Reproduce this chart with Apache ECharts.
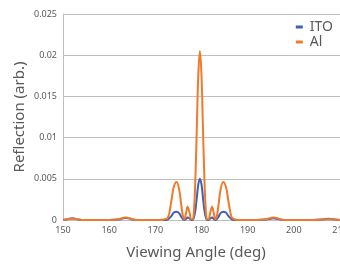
<!DOCTYPE html>
<html>
<head>
<meta charset="utf-8">
<script src="https://cdn.jsdelivr.net/npm/echarts@6/dist/echarts.min.js"></script>
<style>html,body{margin:0;padding:0;background:#fff}#c{width:340px;height:267px}</style>
</head>
<body>
<div id="c"></div>
<script>
var angles = [150, 151, 152, 153, 154, 156, 158, 160, 162, 163, 163.6, 164.2, 165, 166, 168, 170, 171, 172, 172.6, 173.0, 173.5, 174.0, 174.6, 175.2, 175.6, 176.0, 176.3, 176.6, 177.0, 177.4, 177.8, 178.1, 178.4, 178.7, 179.0, 179.3, 179.65, 180.0, 180.3, 180.6, 180.9, 181.2, 181.5, 181.9, 182.3, 182.7, 183.0, 183.3, 183.7, 184.1, 184.7, 185.3, 185.8, 186.3, 186.7, 188, 190, 192, 194, 195, 195.6, 196.3, 197, 198, 200, 202, 204, 206, 207.5, 209, 210];
var ito = [0, 0.0001, 0.0002, 0.0001, 0, 0, 0, 0, 0.00005, 0.0002, 0.00025, 0.0002, 0.00005, 0, 0, 0, 0, 0, 0.00003, 0.0002, 0.0005, 0.0009, 0.001, 0.0008, 0.0004, 0.0001, 0, 0.0001, 0.0003, 0.0002, 0, 0, 0.0004, 0.0013, 0.0028, 0.0043, 0.005, 0.0043, 0.0028, 0.0013, 0.0004, 0, 0, 0.0002, 0.0003, 0.0001, 0, 0.0001, 0.0004, 0.0008, 0.001, 0.0009, 0.0005, 0.0002, 0.00003, 0, 0, 0, 0.00005, 0.00015, 0.0002, 0.00015, 0.00005, 0, 0, 0, 0, 0.00005, 0.00015, 0.00005, 0];
var al = [0, 0.0001, 0.00015, 0.0001, 0, 0, 0, 0, 0.0001, 0.00025, 0.0003, 0.00025, 0.0001, 0, 0, 0, 0, 0.0001, 0.0002, 0.0008, 0.0024, 0.004, 0.0046, 0.0036, 0.0019, 0.0004, 0.0001, 0.0007, 0.0016, 0.0009, 0.0001, 0.0001, 0.0015, 0.0055, 0.0115, 0.0175, 0.0205, 0.0175, 0.0115, 0.0055, 0.0015, 0.0001, 0.0001, 0.0009, 0.0016, 0.0007, 0.0001, 0.0004, 0.0019, 0.0036, 0.0046, 0.004, 0.0024, 0.0008, 0.0002, 0, 0, 0, 0.0001, 0.00025, 0.0003, 0.00025, 0.0001, 0, 0, 0, 0, 0.00005, 0.0001, 0.00005, 0];
var seriesNames = ['ITO', 'Al'];
var yTicks = [0, 0.005, 0.01, 0.015, 0.02, 0.025];

function pairs(ys){ return angles.map(function(a,i){ return [a, ys[i]]; }); }
var font = 'Noto Sans';
var grey = '#595959';
var chart = echarts.init(document.getElementById('c'), null, {renderer:'canvas'});
chart.setOption({
  animation: false,
  backgroundColor: '#fff',
  grid: {left: 63, right: 0, top: 14, bottom: 47, containLabel: false, outerBoundsMode: 'none'},
  legend: {
    data: seriesNames, orient: 'vertical', right: 2, top: 15, itemGap: 1,
    icon: 'rect', itemWidth: 7, itemHeight: 3,
    textStyle: {fontFamily: font, fontSize: 14, color: grey, padding: [0,0,0,2]}
  },
  xAxis: {
    type: 'value', min: 150, max: 210, interval: 10,
    name: 'Viewing Angle (deg)', nameLocation: 'middle', nameGap: 25, nameMoveOverlap: false,
    nameTextStyle: {fontFamily: font, fontSize: 15, color: grey, padding: [0, 11, 0, 0]},
    axisLine: {show: false}, axisTick: {show: false},
    axisLabel: {fontFamily: font, fontSize: 9, color: grey, margin: 6},
    splitLine: {show: false}
  },
  yAxis: {
    type: 'value', min: 0, max: 0.025, interval: 0.005,
    name: 'Reflection (arb.)', nameLocation: 'middle', nameGap: 36, nameMoveOverlap: false,
    nameTextStyle: {fontFamily: font, fontSize: 15, color: grey},
    axisLine: {show: true, lineStyle: {color: '#bfbfbf'}}, axisTick: {show: false},
    axisLabel: {fontFamily: font, fontSize: 9, color: grey, margin: 6,
      formatter: function(v){ return String(+v.toFixed(3)); }},
    splitLine: {show: true, lineStyle: {color: '#bfbfbf', width: 1}}
  },
  series: [
    {name: 'ITO', type: 'line', data: pairs(ito), smooth: 0.4, showSymbol: false,
     lineStyle: {color: '#4060b8', width: 2}, itemStyle: {color: '#4060b8'}},
    {name: 'Al', type: 'line', data: pairs(al), smooth: 0.4, showSymbol: false,
     lineStyle: {color: '#f07a2a', width: 2}, itemStyle: {color: '#f07a2a'}}
  ]
});
</script>
</body>
</html>
